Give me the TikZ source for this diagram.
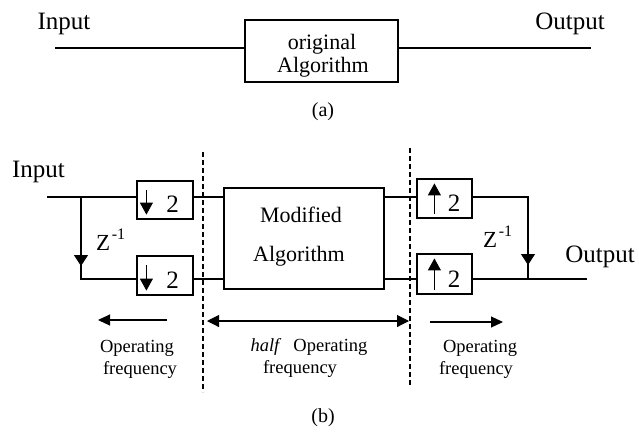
\documentclass[tikz,border=0pt]{standalone}
\usepackage{fontspec}
\setmainfont{Liberation Serif}
\usetikzlibrary{arrows.meta,calc}
\begin{document}
\begin{tikzpicture}[x=1pt,y=-1pt,
  ln/.style={line width=1.1pt},
  sbox/.style={draw,line width=1.2pt,inner sep=0pt},
  dsh/.style={line width=1.1pt,dash pattern=on 5pt off 3pt},
  big/.style={inner sep=0pt,font=\fontsize{25}{30}\selectfont},
  mid/.style={inner sep=0pt,font=\fontsize{22}{26}\selectfont},
  zed/.style={inner sep=0pt,font=\fontsize{23}{26}\selectfont},
  sml/.style={inner sep=0pt,font=\fontsize{18.5}{22}\selectfont},
  captxt/.style={inner sep=0pt,font=\fontsize{20}{24}\selectfont},
  tri/.style={-{Triangle[length=11pt,width=14pt]}},
  stri/.style={-{Triangle[length=12pt,width=13pt]}}
]
\useasboundingbox (0,0) rectangle (639,432);
% ---------- (a)
\node[big,anchor=base] (inA) at (64,29) {Input};
\node[big,anchor=base] (outA) at (570,29) {Output};
\node[sbox,minimum width=153pt,minimum height=62pt] (orig) at (321.5,51) {};
\node[mid,anchor=base] (origt1) at (322,49) {original};
\node[mid,anchor=base] (origt2) at (323,72) {Algorithm};
\coordinate (aL) at (55,48);
\coordinate (aR) at (591,48);
\draw[ln] (aL) -- (aL -| orig.west);
\draw[ln] (aR -| orig.east) -- (aR);
\node[captxt] (capA) at (323,111.5) {(a)};
% ---------- (b)
\node[big,anchor=base] (inB) at (38.5,177) {Input};
\node[big,anchor=base] (outB) at (600,262) {Output};
\node[sbox,minimum width=56pt,minimum height=38pt] (d1) at (165,200) {};
\node[sbox,minimum width=56pt,minimum height=39pt] (d2) at (165,275.5) {};
\node[sbox,minimum width=55pt,minimum height=39pt] (u1) at (444.5,198.5) {};
\node[sbox,minimum width=55pt,minimum height=40pt] (u2) at (444.5,274) {};
\node[sbox,minimum width=160pt,minimum height=101pt] (mod) at (304,238.5) {};
\node[mid,anchor=base] (modt1) at (301,222) {Modified};
\node[mid,anchor=base] (modt2) at (299,261) {Algorithm};
% symbols in boxes
\foreach \b in {d1,d2}{
  \draw[ln,stri] ($(\b.north west)+(10,10)$) -- ($(\b.south west)+(10,-5)$);
  \node[big,anchor=base] (\b two) at ($(\b.south east)+(-21,-7)$) {2};
}
\foreach \b in {u1,u2}{
  \draw[ln,stri] ($(\b.south west)+(18,-5)$) -- ($(\b.north west)+(18,5)$);
  \node[big,anchor=base] (\b two) at ($(\b.south east)+(-18.5,-7)$) {2};
}
% left branch
\coordinate (b1) at (47,197);
\coordinate (brA) at (81,197);
\coordinate (brB) at (81,279);
\coordinate (brT) at (81,266);
\draw[ln] (b1) -- (b1 -| d1.west);
\draw[ln] (brA) -- (brB) -- (brB -| d2.west);
\draw[ln,tri] (brA) -- (brT);
\node[zed,anchor=base west] (z1) at (96,250) {Z\hspace{1.5pt}\raisebox{11pt}{\fontsize{16}{16}\selectfont -1}};
% middle connections
\draw[ln] (d1.east |- b1) -- (mod.west |- b1);
\draw[ln] (d2.east |- brB) -- (mod.west |- brB);
\draw[ln] (mod.east |- b1) -- (u1.west |- b1);
\draw[ln] (mod.east |- brB) -- (u2.west |- brB);
% right branch
\coordinate (cA) at (528,197);
\coordinate (cB) at (528,279);
\coordinate (cT) at (528,265);
\coordinate (oE) at (587,279);
\draw[ln] (u1.east |- cA) -- (cA) -- (cB);
\draw[ln,tri] (cA) -- (cT);
\draw[ln] (u2.east |- cB) -- (oE);
\node[zed,anchor=base west] (z2) at (483,247) {Z\hspace{1.5pt}\raisebox{11pt}{\fontsize{16}{16}\selectfont -1}};
% dashed separators
\coordinate (dL1) at (203,152);
\coordinate (dL2) at (203,392);
\coordinate (dR1) at (410,148);
\coordinate (dR2) at (410,387);
\draw[dsh] (dL1) -- (dL2);
\draw[dsh] (dR1) -- (dR2);
% frequency arrows
\coordinate (fl1) at (167,320);
\coordinate (fl2) at (98,320);
\coordinate (fm1) at (207,321);
\coordinate (fm2) at (409,321);
\coordinate (fr1) at (430,322);
\coordinate (fr2) at (503,322);
\draw[ln,-{Triangle[length=12pt,width=11pt]}] (fl1) -- (fl2);
\draw[ln,{Triangle[length=12pt,width=12pt]}-{Triangle[length=12pt,width=12pt]}] (fm1) -- (fm2);
\draw[ln,-{Triangle[length=12pt,width=11pt]}] (fr1) -- (fr2);
% frequency labels
\node[sml,anchor=base] (opL) at (137,352) {Operating};
\node[sml,anchor=base] (frL) at (140,374) {frequency};
\node[sml,anchor=base] (opM) at (309,351) {\textit{half}\hspace{12pt}Operating};
\node[sml,anchor=base] (frM) at (300,373) {frequency};
\node[sml,anchor=base] (opR) at (480,352) {Operating};
\node[sml,anchor=base] (frR) at (476,374) {frequency};
\node[captxt] (capB) at (323,418) {(b)};
\end{tikzpicture}
\end{document}
